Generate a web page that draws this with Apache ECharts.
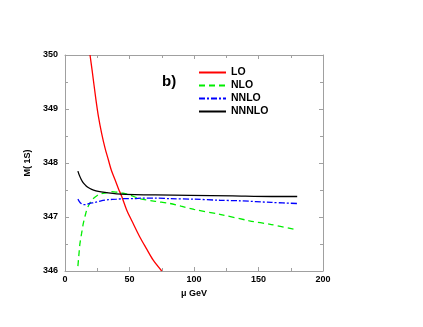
<!DOCTYPE html>
<html>
<head>
<meta charset="utf-8">
<script src="https://cdn.jsdelivr.net/npm/echarts@6/dist/echarts.min.js"></script>
<style>html,body{margin:0;padding:0;background:#fff}#c{width:423px;height:327px}</style>
</head>
<body>
<div id="c"></div>
<script>
// Data
const seriesNames = ["LO", "NLO", "NNLO", "NNNLO"];
const xTicks = [0, 50, 100, 150, 200];
const yTicks = [346, 347, 348, 349, 350];

const muLO = [19.4, 21, 24, 26, 28.4, 31, 33.6, 36, 38.8, 41.5, 44, 47.8, 52, 58, 63, 68.4, 75];
const mLO  = [350, 349.72, 349.17, 348.85, 348.55, 348.28, 348.06, 347.86, 347.69, 347.52, 347.38, 347.13, 346.92, 346.63, 346.42, 346.2, 346.0];

const muNLO = [10, 11, 11.6, 12.9, 14.2, 15.5, 16.8, 18, 19.4, 21, 24.5, 28, 32.3, 36.2, 40, 45, 50, 58, 70, 81.4, 90, 100, 120, 143, 160, 178];
const mNLO  = [346.09, 346.36, 346.51, 346.70, 346.88, 347.01, 347.13, 347.20, 347.26, 347.32, 347.39, 347.43, 347.45, 347.47, 347.46, 347.44, 347.41, 347.34, 347.29, 347.25, 347.2, 347.14, 347.05, 346.93, 346.86, 346.77];

const muNNLO = [10, 11, 12.5, 14.2, 16, 19, 23.3, 28, 33.6, 40, 46.5, 53, 60, 70, 81.4, 100, 120, 135.7, 160, 180];
const mNNLO  = [347.33, 347.29, 347.25, 347.23, 347.23, 347.25, 347.27, 347.3, 347.32, 347.33, 347.34, 347.34, 347.35, 347.35, 347.34, 347.33, 347.31, 347.3, 347.27, 347.25];

const muNNNLO = [10, 11, 12.5, 14.2, 16, 18, 20.7, 24, 28, 33.6, 40, 54.3, 70, 96.9, 130, 160, 180];
const mNNNLO  = [347.85, 347.78, 347.70, 347.63, 347.585, 347.545, 347.51, 347.485, 347.465, 347.445, 347.43, 347.415, 347.41, 347.4, 347.39, 347.38, 347.38];

const zip = (a, b) => a.map((v, i) => [v, b[i]]);

const FONT = '"Liberation Sans", Arial, sans-serif';
const axisGray = '#a0a0a0';

function mkX(pos, showLabel) {
  return {
    type: 'value', position: pos, min: 0, max: 200, interval: 50,
    axisLine: { show: true, onZero: false, lineStyle: { color: axisGray, width: 1 } },
    axisTick: { show: true, inside: true, length: 4, lineStyle: { color: axisGray } },
    minorTick: { show: true, splitNumber: 2, length: 3, lineStyle: { color: axisGray } },
    splitLine: { show: false },
    axisLabel: { show: showLabel, color: '#000', fontFamily: FONT, fontWeight: 'bold', fontSize: 9, margin: 4,
      formatter: v => xTicks.includes(v) ? String(v) : '' },
    name: showLabel ? 'μ GeV' : '', nameLocation: 'middle', nameGap: 16,
    nameTextStyle: { color: '#000', fontFamily: FONT, fontWeight: 'bold', fontSize: 9 }
  };
}
function mkY(pos, showLabel) {
  return {
    type: 'value', position: pos, min: 346, max: 350, interval: 1,
    axisLine: { show: true, onZero: false, lineStyle: { color: axisGray, width: 1 } },
    axisTick: { show: true, inside: true, length: 4, lineStyle: { color: axisGray } },
    minorTick: { show: true, splitNumber: 2, length: 3, lineStyle: { color: axisGray } },
    splitLine: { show: false },
    axisLabel: { show: showLabel, color: '#000', fontFamily: FONT, fontWeight: 'bold', fontSize: 9, margin: 7,
      formatter: v => yTicks.includes(v) ? String(v) : '' },
    name: showLabel ? 'M( 1S)' : '', nameLocation: 'middle', nameGap: 17, nameRotate: 90,
    nameTextStyle: { color: '#000', fontFamily: FONT, fontWeight: 'bold', fontSize: 9 }
  };
}

const styles = [
  { color: '#ff0000', type: 'solid' },
  { color: '#00ee00', type: [6, 4] },
  { color: '#0000ff', type: [6, 2, 2, 2] },
  { color: '#000000', type: 'solid' }
];
const dataSets = [zip(muLO, mLO), zip(muNLO, mNLO), zip(muNNLO, mNNLO), zip(muNNNLO, mNNNLO)];

const chart = echarts.init(document.getElementById('c'), null, { renderer: 'canvas' });
chart.setOption({
  animation: false,
  backgroundColor: '#fff',
  grid: { left: 65, right: 100, top: 55, bottom: 56, containLabel: false },
  xAxis: [mkX('bottom', true), mkX('top', false)],
  yAxis: [mkY('left', true), mkY('right', false)],
  legend: {
    orient: 'vertical', left: 193, top: 62, itemWidth: 27, itemHeight: 10, itemGap: 2,
    data: seriesNames,
    textStyle: { color: '#000', fontFamily: FONT, fontWeight: 'bold', fontSize: 10.5, lineHeight: 11 },
    itemStyle: { opacity: 0 }
  },
  graphic: [{
    type: 'text', left: 162, top: 74,
    style: { text: 'b)', fill: '#000', font: 'bold 15px ' + FONT }
  }],
  series: seriesNames.map((n, i) => ({
    name: n, type: 'line', data: dataSets[i], showSymbol: false, symbol: 'none', smooth: 0.3,
    clip: true, xAxisIndex: 0, yAxisIndex: 0,
    lineStyle: { color: styles[i].color, type: styles[i].type, width: 1.3 },
    itemStyle: { color: styles[i].color }
  }))
});
</script>
</body>
</html>
